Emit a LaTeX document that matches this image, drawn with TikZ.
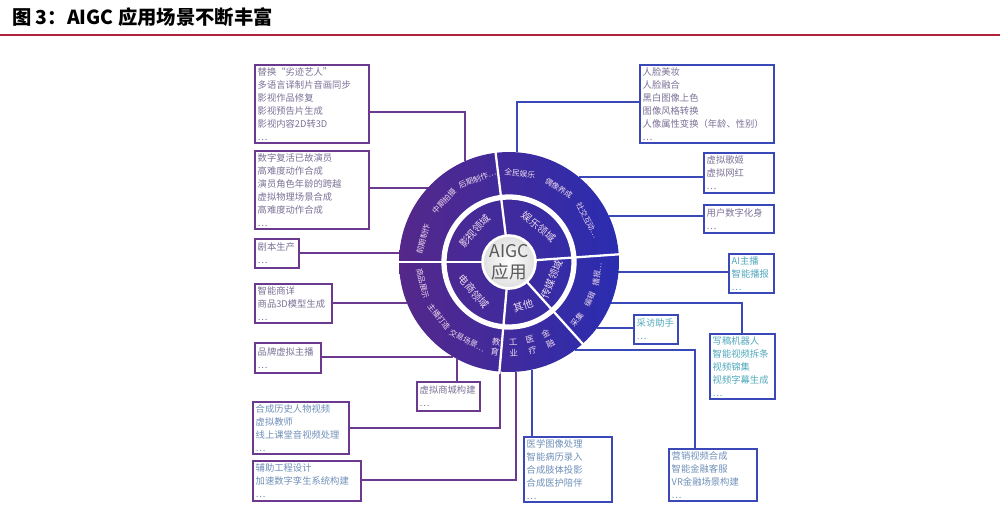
\documentclass[tikz,border=0pt]{standalone}
\usepackage{fontspec}
\setmainfont{Noto Sans CJK SC}
\newfontfamily\headfont{Noto Sans CJK SC}
\usetikzlibrary{calc}
\definecolor{ringL}{HTML}{55288A}
\definecolor{ringR}{HTML}{2A2DB0}
\definecolor{lineL}{HTML}{6B3A8E}
\definecolor{lineR}{HTML}{3A48B8}
\definecolor{txtG}{HTML}{7B7096}
\definecolor{txtT}{HTML}{4FA8BC}
\definecolor{txtB}{HTML}{6E8FB8}
\definecolor{headred}{HTML}{B3203C}
\tikzset{
  box/.style={draw, line width=1.2pt, anchor=north west, align=left, inner sep=1.5pt,
    font=\fontsize{5.3}{7.4}\selectfont, text=txtG},
  connL/.style={draw=lineL, line width=1.4pt},
  connR/.style={draw=lineR, line width=1.4pt},
  seglabel/.style={font=\fontsize{4.4}{5}\selectfont, text=white!85!violet, inner sep=0pt},
  innerlabel/.style={font=\fontsize{5.8}{6.5}\selectfont, text=white!85!violet, inner sep=0pt}
}
\newcommand\infobox[7]{\node[box, draw=#2, text width={#5*0.02cm-3pt}, minimum height={#6*0.02cm}] (#1) at (#3,#4) {#7};}
\begin{document}
\begin{tikzpicture}[x=0.02cm,y=-0.02cm]
\useasboundingbox (0,0) rectangle (1000,531);
% header
\node[anchor=west, font=\headfont\bfseries\fontsize{11}{13}\selectfont] (title) at (6,17) {图 3：AIGC 应用场景不断丰富};
\draw[headred, line width=1.2pt] (0,35) -- (1000,35);

% boxes, left side
\infobox{B1}{lineL}{254}{64}{114}{77}{替换“劣迹艺人”\\多语言译制片音画同步\\影视作品修复\\影视预告片生成\\影视内容2D转3D\\…}
\infobox{B2}{lineL}{254}{150}{114}{76}{数字复活已故演员\\高难度动作合成\\演员角色年龄的跨越\\虚拟物理场景合成\\高难度动作合成\\…}
\infobox{B3}{lineL}{254}{238}{44}{29}{剧本生产\\…}
\infobox{B4}{lineL}{254}{283}{77}{39}{智能商详\\商品3D模型生成\\…}
\infobox{B5}{lineL}{254}{342}{66}{30}{品牌虚拟主播\\…}
% boxes, bottom
\infobox{B6}{lineL}{416}{381}{63}{29}{虚拟商城构建\\…}
\infobox{B7}{lineL}{252}{401}{96}{51}{\color{txtB}合成历史人物视频\\\color{txtB}虚拟教师\\\color{txtB}线上课堂音视频处理\\…}
\infobox{B8}{lineL}{252}{460}{108}{40}{\color{txtB}辅助工程设计\\\color{txtB}加速数字孪生系统构建\\…}
\infobox{B9}{lineR}{523}{436}{88}{64}{\color{txtB}医学图像处理\\\color{txtB}智能病历录入\\\color{txtB}合成肢体投影\\\color{txtB}合成医护陪伴\\…}
% boxes, right side
\infobox{R1}{lineR}{639}{64}{134}{77}{人脸美妆\\人脸融合\\黑白图像上色\\图像风格转换\\人像属性变换（年龄、性别）\\…}
\infobox{R2}{lineR}{703}{152}{70}{40}{虚拟歌姬\\虚拟网红\\…}
\infobox{R3}{lineR}{703}{204}{70}{28}{用户数字化身\\…}
\infobox{R4}{lineR}{728}{253}{45}{39}{\color{txtT}AI主播\\\color{txtT}智能播报\\…}
\infobox{R5}{lineR}{633}{314}{44}{29}{\color{txtT}采访助手\\…}
\infobox{R6}{lineR}{709}{333}{65}{63}{\color{txtT}写稿机器人\\\color{txtT}智能视频拆条\\\color{txtT}视频锦集\\\color{txtT}视频字幕生成\\…}
\infobox{R7}{lineR}{668}{448}{88}{52}{\color{txtB}营销视频合成\\\color{txtB}智能金融客服\\\color{txtB}VR金融场景构建\\…}

% points on the rim
\coordinate (pB1) at (465,161);
\coordinate (pB2) at (428,188);
\coordinate (pB3) at (399,253);
\coordinate (pB4) at (407,303);
\coordinate (pB5) at (453,357);
\coordinate (pB6) at (457,359);
\coordinate (pB7) at (500,372);
\coordinate (pB8) at (516,372);
\coordinate (pB9) at (532,370);
\coordinate (pR1) at (517,152);
\coordinate (pR2) at (579,177);
\coordinate (pR3) at (609,216);
\coordinate (pR4) at (618,272);
\coordinate (pR5) at (597,328);
\coordinate (pR6) at (611,303);
\coordinate (pR7) at (575,350);

% connectors
\draw[connL] (B1.east|-0,112) -| (pB1);
\draw[connL] (B2.east|-0,188) -- (pB2);
\draw[connL] (B3.east|-0,253) -- (pB3);
\draw[connL] (B4.east|-0,303) -- (pB4);
\draw[connL] (B5.east|-0,357) -- (pB5);
\draw[connL] (B6.north-|pB6) -- (pB6);
\draw[connL] (B7.east|-0,428) -| (pB7);
\draw[connL] (B8.east|-0,480) -| (pB8);
\draw[connR] (B9.north-|pB9) -- (pB9);
\draw[connR] (R1.west|-0,102) -| (pR1);
\draw[connR] (pR2) -- (R2.west|-pR2);
\draw[connR] (pR3) -- (R3.west|-pR3);
\draw[connR] (pR4) -- (R4.west|-pR4);
\draw[connR] (pR5) -- (R5.west|-pR5);
\draw[connR] (pR6) -| (R6.north-|742,0);
\draw[connR] (pR7) -| (R7.north-|695,0);

% the wheel
\begin{scope}[shift={(509,262)}, y=0.02cm]
  \shade[left color=ringL, right color=ringR] (0,0) circle (2.2cm);
  \draw[white, line width=3pt] (0,0) circle (1.3cm);
  \foreach \a in {97,180,4,-48,-95}
    \draw[white, line width=1.3pt] (0,0) -- (\a:2.25cm);
  \shade[inner color=white, outer color=gray!25, draw=white, line width=1.5pt] (0,0) circle (0.53cm);
  \node[align=center, text=gray!70!black, font=\fontsize{10}{12}\selectfont] (core) at (0,0) {AIGC\\应用};
  % inner ring
  \foreach \a/\t in {138/影视领域, 50/娱乐领域}
    \node[innerlabel, rotate=\a-90] at (\a:0.92cm) {\t};
  \foreach \a/\t in {-22/传媒领域, -72/其他, -140/电商领域}
    \node[innerlabel, rotate=\a+90] at (\a:0.92cm) {\t};
  % outer ring
  \foreach \a/\t in {165/前期制作, 137/中期拍摄, 111/后期制作…, 83/全民娱乐, 56/偶像养成, 28/社交互动…}
    \node[seglabel, rotate=\a-90] at (\a:1.78cm) {\t};
  \foreach \a/\t in {-8/播报…, -25/编辑, -40/采集, -166/商品展示, -142/主播打造, -118/交易场景…}
    \node[seglabel, rotate=\a+90] at (\a:1.78cm) {\t};
  \foreach \a/\t in {-99/教\\育, -87/工\\业, -75/医\\疗, -63/金\\融}
    \node[seglabel, rotate=\a+90, align=center, font=\fontsize{4.8}{6}\selectfont] at (\a:1.72cm) {\t};
\end{scope}
\end{tikzpicture}
\end{document}
